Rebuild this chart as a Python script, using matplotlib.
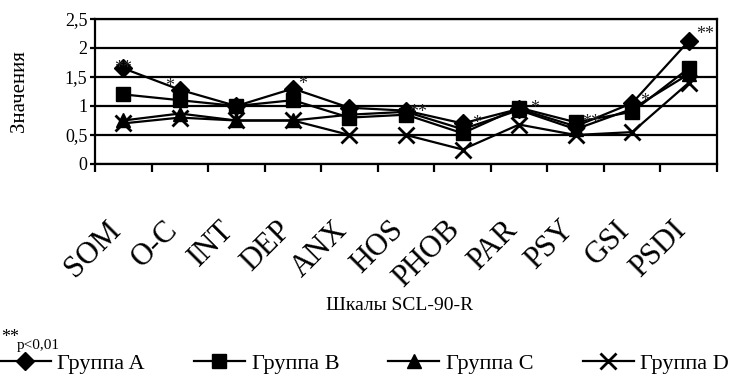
import numpy as np
import matplotlib
matplotlib.use("Agg")
import matplotlib.pyplot as plt
import matplotlib.transforms as mtransforms

plt.rcParams['font.family'] = ['Liberation Serif', 'DejaVu Serif']

scales = ["SOM", "O-C", "INT", "DEP", "ANX", "HOS", "PHOB", "PAR", "PSY", "GSI", "PSDI"]
group_a = [1.65, 1.28, 1.00, 1.30, 0.97, 0.92, 0.70, 0.95, 0.65, 1.05, 2.12]
group_b = [1.20, 1.10, 1.00, 1.10, 0.80, 0.85, 0.53, 0.97, 0.72, 0.90, 1.65]
group_c = [0.75, 0.87, 0.75, 0.75, 0.85, 0.90, 0.60, 0.93, 0.60, 0.95, 1.55]
group_d = [0.70, 0.80, 0.75, 0.75, 0.50, 0.50, 0.25, 0.68, 0.50, 0.55, 1.40]
stars = ["**", "*", "", "*", "", "**", "*", "*", "**", "*", "**"]
yticks = [0, 0.5, 1, 1.5, 2, 2.5]
ytick_labels = ["0", "0,5", "1", "1,5", "2", "2,5"]

fig = plt.figure(figsize=(7.40, 3.77), dpi=100)
ax = fig.add_axes([95 / 740, 1 - 164 / 377, 622 / 740, 145 / 377])

x = np.arange(len(scales))
ax.plot(x, group_a, color="black", lw=1.6, marker="D", ms=9, label="Группа A", zorder=3)
ax.plot(x, group_b, color="black", lw=1.6, marker="s", ms=10, label="Группа B", zorder=3)
ax.plot(x, group_c, color="black", lw=1.6, marker="^", ms=10, label="Группа C", zorder=3)
ax.plot(x, group_d, color="black", lw=1.6, marker="x", ms=11, mew=2, label="Группа D", zorder=4)

# значимость: звёздочки рядом с точками группы A
offsets = [(0, 0), (-7, 2), (0, 0), (7, 3), (0, 0), (9, -1), (10, 0), (11, 0), (11, 3), (9, 1), (12, 5)]
for i, s in enumerate(stars):
    if s:
        ax.annotate(s, (x[i], group_a[i]), xytext=offsets[i], textcoords="offset points",
                    ha="center", va="center", fontsize=13, color="#222222", zorder=5)

ax.set_xlim(-0.5, len(scales) - 0.5)
ax.set_ylim(0, 2.5)
ax.set_yticks(yticks)
ax.set_yticklabels(ytick_labels, fontsize=13)
ax.yaxis.grid(True, color="black", lw=1.6)
ax.set_axisbelow(True)
for sp in ax.spines.values():
    sp.set_linewidth(1.6)

ax.set_xticks(x)
ax.set_xticks(np.arange(-0.5, len(scales)), minor=True)
ax.set_xticklabels(scales, rotation=45, ha="right", va="top", rotation_mode="anchor", fontsize=22)
ax.tick_params(axis="x", which="major", length=0, pad=37)
ax.tick_params(axis="x", which="minor", length=6, width=1.6, direction="out")
ax.tick_params(axis="y", length=3.5, width=1.6, direction="out", pad=2)
shift = mtransforms.ScaledTranslation(-17 / 100, 0, fig.dpi_scale_trans)
for lab in ax.get_xticklabels():
    lab.set_transform(lab.get_transform() + shift)

ax.set_ylabel("Значения", fontsize=15, labelpad=26)
fig.text(400 / 740, 1 - 306 / 377, "Шкалы SCL-90-R", ha="center", va="center", fontsize=14)

fig.text(0.002, 1 - 338 / 377, "**", ha="left", va="center", fontsize=13)
fig.text(17 / 740, 1 - 345 / 377, "p<0,01", ha="left", va="center", fontsize=11)

handles, labels = ax.get_legend_handles_labels()
fig.legend(handles, labels, loc="lower left", bbox_to_anchor=(-0.005, 0.0), ncol=4,
           frameon=False, fontsize=16, handlelength=2.3, handletextpad=0.3,
           columnspacing=2.2, borderaxespad=0, borderpad=0.15)

fig.savefig("out.png", dpi=100)
